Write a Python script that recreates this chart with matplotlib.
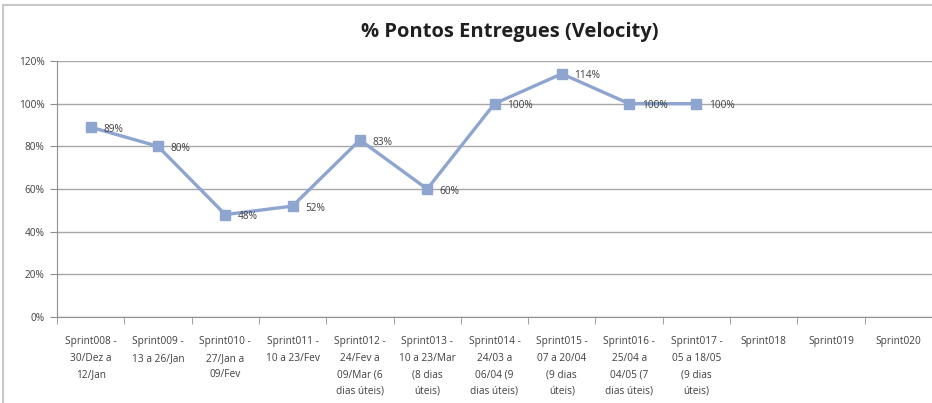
import matplotlib
matplotlib.use("Agg")
import matplotlib.pyplot as plt
from matplotlib.patches import Rectangle
import numpy as np

# chart data
sprints = [
    "Sprint008 -\n30/Dez a\n12/Jan",
    "Sprint009 -\n13 a 26/Jan",
    "Sprint010 -\n27/Jan a\n09/Fev",
    "Sprint011 -\n10 a 23/Fev",
    "Sprint012 -\n24/Fev a\n09/Mar (6\ndias úteis)",
    "Sprint013 -\n10 a 23/Mar\n(8 dias\núteis)",
    "Sprint014 -\n24/03 a\n06/04 (9\ndias úteis)",
    "Sprint015 -\n07 a 20/04\n(9 dias\núteis)",
    "Sprint016 -\n25/04 a\n04/05 (7\ndias úteis)",
    "Sprint017 -\n05 a 18/05\n(9 dias\núteis)",
    "Sprint018",
    "Sprint019",
    "Sprint020",
]
velocity = [89, 80, 48, 52, 83, 60, 100, 114, 100, 100, None, None, None]
y_ticks = [0, 20, 40, 60, 80, 100, 120]

W, H = 932, 403
fig = plt.figure(figsize=(W / 100, H / 100), dpi=100)
plt.rcParams['font.family'] = ['Open Sans', 'DejaVu Sans']

# excel-style chart border, cropped at right/bottom
fig.patches.append(Rectangle((2.5 / W, -0.1), 1.2, 1 - 4.5 / H + 0.1,
                             transform=fig.transFigure, fill=False,
                             edgecolor="#c8c8c8", lw=1.5))

ax = fig.add_axes([57 / W, (H - 317) / H, (W - 57) / W, (317 - 61) / H])

x = np.arange(len(sprints))
xs = [i for i, v in zip(x, velocity) if v is not None]
ys = [v for v in velocity if v is not None]

ax.plot(xs, ys, color="#8ea5cf", lw=2.4, marker="s", markersize=7,
        markerfacecolor="#8ea5cf", markeredgecolor="#8ea5cf", zorder=3)
for xi, yi in zip(xs, ys):
    ax.annotate(f"{yi}%", (xi, yi), xytext=(9, -1.5), textcoords="offset points",
                ha="left", va="center", fontsize=7.3, color="#404040")

ax.set_ylim(0, 120)
ax.set_yticks(y_ticks)
ax.set_yticklabels([f"{t}%" for t in y_ticks], fontsize=7.3, color="#404040")
ax.set_xlim(-0.5, -0.5 + (W - 57) / 67.6)

ax.set_xticks(x)
ax.set_xticklabels(sprints, fontsize=7.3, color="#404040", linespacing=1.66,
                   va="top")
ax.set_xticks(np.arange(len(sprints) + 1) - 0.5, minor=True)
ax.tick_params(axis="x", which="major", length=0, pad=14)
ax.tick_params(axis="x", which="minor", length=5, color="#909090", direction="out")
ax.tick_params(axis="y", length=5, color="#909090", direction="out", pad=4)

ax.grid(axis="y", color="#a8a8a8", lw=1)
ax.set_axisbelow(True)
for s in ["top", "right"]:
    ax.spines[s].set_visible(False)
for s in ["left", "bottom"]:
    ax.spines[s].set_color("#909090")

fig.text(510 / W, 1 - 32 / H, "% Pontos Entregues (Velocity)", ha="center",
         va="center", fontsize=14.5, fontweight="bold", color="#202020")

fig.savefig("out.png", dpi=100)
